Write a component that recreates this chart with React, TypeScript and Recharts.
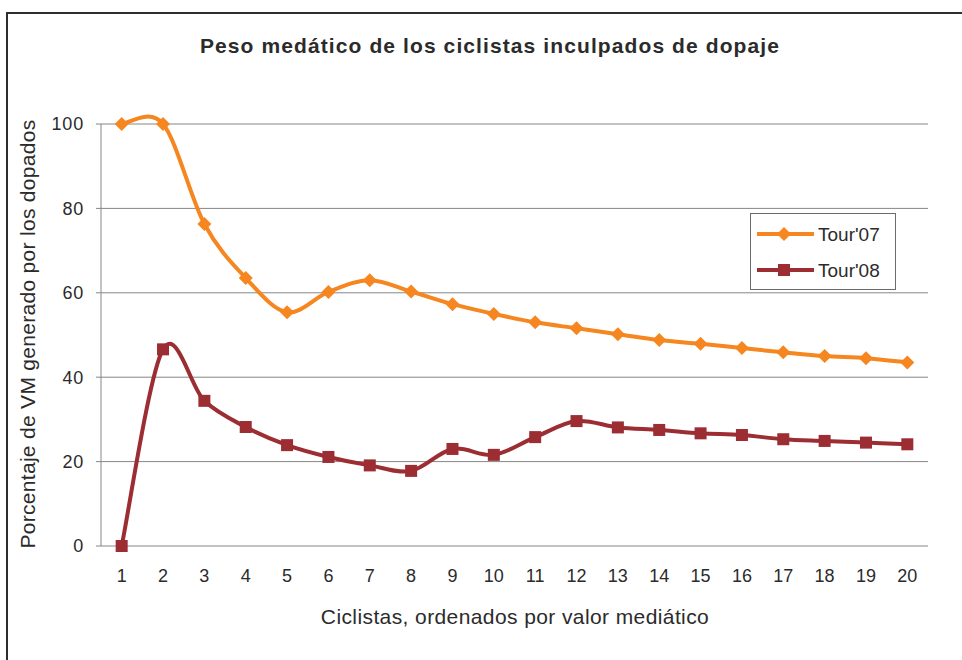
import React from "react";
import { LineChart, Line, XAxis, YAxis, CartesianGrid } from "recharts";

const ciclistas = [1, 2, 3, 4, 5, 6, 7, 8, 9, 10, 11, 12, 13, 14, 15, 16, 17, 18, 19, 20];
const tour07 = [100, 100, 76.3, 63.5, 55.4, 60.2, 63, 60.3, 57.3, 55, 53, 51.6, 50.2, 48.8, 47.9, 46.9, 45.9, 45, 44.5, 43.5];
const tour08 = [0, 46.6, 34.4, 28.2, 23.9, 21.1, 19.1, 17.8, 23, 21.6, 25.8, 29.6, 28.1, 27.5, 26.7, 26.3, 25.3, 24.9, 24.5, 24.1];
const yTicks = [0, 20, 40, 60, 80, 100];
const boundaryTicks = [0.5, 1.5, 2.5, 3.5, 4.5, 5.5, 6.5, 7.5, 8.5, 9.5, 10.5, 11.5, 12.5, 13.5, 14.5, 15.5, 16.5, 17.5, 18.5, 19.5, 20.5];

const ORANGE = "#F6861F";
const MAROON = "#9B2D33";
const AXIS = "#868686";
const TEXT = "#2b2b2b";
const FONT = "'Liberation Sans', Arial, sans-serif";

const data = ciclistas.map((c, i) => ({ ciclista: c, t07: tour07[i], t08: tour08[i] }));

// smoothed line like the spreadsheet one (catmull-rom through the points)
function smoothCurve(context: any) {
  let pts: number[][] = [];
  return {
    areaStart() {},
    areaEnd() {},
    lineStart() {
      pts = [];
    },
    point(x: number, y: number) {
      pts.push([+x, +y]);
    },
    lineEnd() {
      if (!pts.length) return;
      context.moveTo(pts[0][0], pts[0][1]);
      for (let i = 0; i < pts.length - 1; i++) {
        const p0 = pts[i - 1] ?? pts[i];
        const p1 = pts[i];
        const p2 = pts[i + 1];
        const p3 = pts[i + 2] ?? p2;
        context.bezierCurveTo(
          p1[0] + (p2[0] - p0[0]) / 6,
          p1[1] + (p2[1] - p0[1]) / 6,
          p2[0] - (p3[0] - p1[0]) / 6,
          p2[1] - (p3[1] - p1[1]) / 6,
          p2[0],
          p2[1]
        );
      }
    },
  };
}

function Diamond({ cx, cy, fill }: { cx?: number; cy?: number; fill: string }) {
  if (cx == null || cy == null) return null;
  const r = 7;
  return <path d={`M${cx},${cy - r}L${cx + r},${cy}L${cx},${cy + r}L${cx - r},${cy}Z`} fill={fill} />;
}

function Square({ cx, cy, fill }: { cx?: number; cy?: number; fill: string }) {
  if (cx == null || cy == null) return null;
  return <rect x={cx - 6} y={cy - 6} width={12} height={12} fill={fill} />;
}

function LegendBox() {
  const rows = [
    { name: "Tour'07", color: ORANGE, shape: "d" },
    { name: "Tour'08", color: MAROON, shape: "s" },
  ];
  return (
    <div style={{ position: "absolute", left: 750, top: 213, border: "1px solid #6b6b6b", width: 144, height: 75, background: "#fff" }}>
      <svg width={144} height={75} style={{ display: "block" }}>
        {rows.map((r, i) => {
          const y = 20 + i * 36;
          return (
            <g key={r.name}>
              <line x1={6} x2={63} y1={y} y2={y} stroke={r.color} strokeWidth={4} />
              {r.shape === "d" ? <Diamond cx={33} cy={y} fill={r.color} /> : <Square cx={33} cy={y} fill={r.color} />}
              <text x={67} y={y + 7} fontSize={19} fill={TEXT} fontFamily={FONT}>
                {r.name}
              </text>
            </g>
          );
        })}
      </svg>
    </div>
  );
}

function NoLabel() {
  return <g />;
}

export default function App() {
  return (
    <div style={{ position: "absolute", left: 0, top: 0, width: 962, height: 660, overflow: "hidden", background: "#fff", fontFamily: FONT }}>
      <div style={{ position: "absolute", left: 6, top: 12, width: 1000, height: 700, border: "2px solid #2e2e2e" }} />
      <div
        style={{
          position: "absolute",
          left: 0,
          top: 34,
          width: 980,
          textAlign: "center",
          fontSize: 21,
          letterSpacing: 1.1,
          fontWeight: "bold",
          color: TEXT,
        }}
      >
        Peso medático de los ciclistas inculpados de dopaje
      </div>
      <div
        style={{
          position: "absolute",
          left: 28,
          top: 334,
          transform: "translate(-50%, -50%) rotate(-90deg)",
          whiteSpace: "nowrap",
          fontSize: 21,
          letterSpacing: 0.3,
          color: TEXT,
        }}
      >
        Porcentaje de VM generado por los dopados
      </div>
      <div style={{ position: "absolute", left: 0, top: 605, width: 1030, textAlign: "center", fontSize: 21, letterSpacing: 0.4, color: TEXT }}>
        Ciclistas, ordenados por valor mediático
      </div>
      <div style={{ position: "absolute", left: 0, top: 0 }}>
        <LineChart width={962} height={660} data={data} margin={{ top: 124, right: 34, bottom: 84, left: 0 }}>
          <CartesianGrid vertical={false} stroke={AXIS} strokeWidth={1} />
          <XAxis
            xAxisId="frame"
            type="number"
            dataKey="ciclista"
            domain={[0.5, 20.5]}
            ticks={boundaryTicks}
            interval={0}
            height={0}
            tick={<NoLabel />}
            tickSize={6}
            axisLine={{ stroke: AXIS }}
            tickLine={{ stroke: AXIS }}
          />
          <XAxis
            xAxisId="main"
            type="number"
            dataKey="ciclista"
            domain={[0.5, 20.5]}
            ticks={ciclistas}
            interval={0}
            height={30}
            axisLine={false}
            tickLine={false}
            tickMargin={17}
            tick={{ fontSize: 18, fill: TEXT, fontFamily: FONT }}
          />
          <YAxis
            domain={[0, 100]}
            ticks={yTicks}
            width={101}
            tickSize={5}
            tickMargin={12}
            axisLine={{ stroke: AXIS }}
            tickLine={{ stroke: AXIS }}
            tick={{ fontSize: 18, fill: TEXT, fontFamily: FONT, letterSpacing: 0.8 }}
          />
          <Line
            xAxisId="main"
            dataKey="t07"
            name="Tour'07"
            type={smoothCurve as any}
            stroke={ORANGE}
            strokeWidth={4}
            dot={(p: any) => <Diamond key={`d${p.index}`} cx={p.cx} cy={p.cy} fill={ORANGE} />}
            activeDot={false}
            isAnimationActive={false}
          />
          <Line
            xAxisId="main"
            dataKey="t08"
            name="Tour'08"
            type={smoothCurve as any}
            stroke={MAROON}
            strokeWidth={4}
            dot={(p: any) => <Square key={`s${p.index}`} cx={p.cx} cy={p.cy} fill={MAROON} />}
            activeDot={false}
            isAnimationActive={false}
          />
        </LineChart>
      </div>
      <LegendBox />
    </div>
  );
}
